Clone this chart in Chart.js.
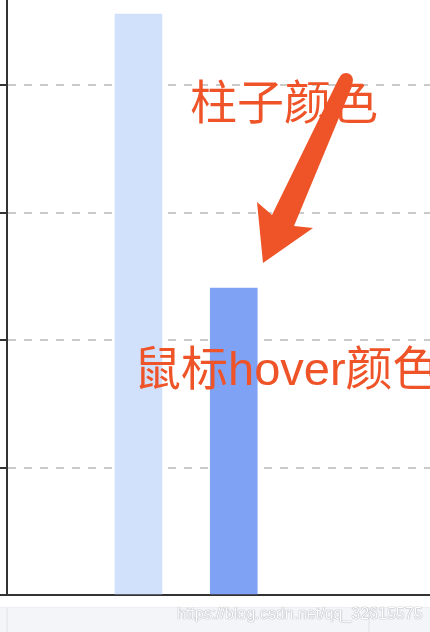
<!DOCTYPE html>
<html lang="zh-CN">
<head>
    <meta charset="UTF-8">
    <title>柱子颜色 / 鼠标hover颜色</title>
    <style>
        html, body {
            margin: 0;
            padding: 0;
            background: #fff;
        }
        .frame {
            position: relative;
            width: 430px;
            height: 632px;
            overflow: hidden;
            background: #fff;
        }
        .chart-box {
            position: absolute;
            left: 0;
            top: -42px;
            width: 430px;
            height: 650px;
        }
        .footer-strip {
            position: absolute;
            left: 0;
            top: 607px;
            width: 430px;
            height: 25px;
            background: #f4f5f9;
            border-top: 1px solid #eceef3;
        }
        .footer-strip .col {
            position: absolute;
            top: 0;
            bottom: 0;
            width: 2px;
            background: #e9ebf1;
        }
        .note {
            position: absolute;
            color: #ef5428;
            font-family: "Liberation Sans", "Noto Sans CJK SC", sans-serif;
            font-size: 47px;
            line-height: 47px;
            white-space: nowrap;
        }
        .watermark {
            position: absolute;
            left: 177px;
            top: 605px;
            font-family: "Liberation Sans", Arial, sans-serif;
            font-size: 16px;
            line-height: 18px;
            color: #fff;
            text-shadow: 0 0 1px rgba(110,110,120,0.7), 0 0 1px rgba(110,110,120,0.5);
            white-space: nowrap;
        }
        svg.arrow {
            position: absolute;
            left: 0;
            top: 0;
        }
    </style>
    <script src="https://cdn.jsdelivr.net/npm/chart.js@4.4.1/dist/chart.umd.min.js"></script>
</head>
<body>
    <div class="frame">
        <div class="footer-strip">
            <div class="col" style="left:6px"></div>
            <div class="col" style="left:368px"></div>
        </div>
        <div class="chart-box">
            <canvas id="barChart"></canvas>
        </div>
        <div class="note" style="left:190px; top:79px">柱子颜色</div>
        <div class="note" style="left:134px; top:345px">鼠标hover颜色</div>
        <svg class="arrow" width="430" height="632">
            <polygon fill="#ef5428"
                points="339,78 272,215 257,202 263,263 313,228 294,226 353,84" />
            <circle cx="346" cy="80" r="7" fill="#ef5428" />
        </svg>
        <div class="watermark">https://blog.csdn.net/qq_32615575</div>
    </div>

    <script>
        // datos del grafico (el eje Y no muestra etiquetas en la captura)
        const categories = ['柱子颜色', '鼠标hover颜色'];
        const categoryPos = [1, 2];
        const values = [456, 241];
        const barColors = ['#d1e1fb', '#7fa2f4'];
        const yTicks = [0, 100, 200, 300, 400, 500];

        const points = values.map((v, i) => ({ x: categoryPos[i], y: v }));

        const ctx = document.getElementById('barChart').getContext('2d');
        const barChart = new Chart(ctx, {
            type: 'bar',
            data: {
                datasets: [{
                    label: 'valor',
                    data: points,
                    backgroundColor: barColors,
                    borderWidth: 0,
                    barThickness: 47
                }]
            },
            options: {
                responsive: true,
                maintainAspectRatio: false,
                animation: false,
                events: [],
                layout: {
                    padding: { left: 0, right: 0, top: 0, bottom: 13 }
                },
                plugins: {
                    legend: { display: false },
                    tooltip: { enabled: false }
                },
                scales: {
                    x: {
                        type: 'linear',
                        offset: false,
                        min: -0.38,
                        max: 4.06,
                        grid: { display: false, drawTicks: false, offset: false },
                        ticks: {
                            display: false,
                            includeBounds: false,
                            callback: (v) => categories[categoryPos.indexOf(v)] || ''
                        },
                        border: { display: true, color: '#333', width: 2 }
                    },
                    y: {
                        min: yTicks[0],
                        max: yTicks[yTicks.length - 1],
                        afterBuildTicks: (scale) => {
                            scale.ticks = yTicks.map(v => ({ value: v }));
                        },
                        ticks: { display: false },
                        grid: {
                            color: '#cacaca',
                            lineWidth: 2,
                            drawTicks: true,
                            tickLength: 7,
                            tickColor: '#333',
                            tickWidth: 2,
                            tickBorderDash: []
                        },
                        border: { display: true, color: '#333', width: 2, dash: [8, 8] }
                    }
                }
            }
        });
    </script>
</body>
</html>
